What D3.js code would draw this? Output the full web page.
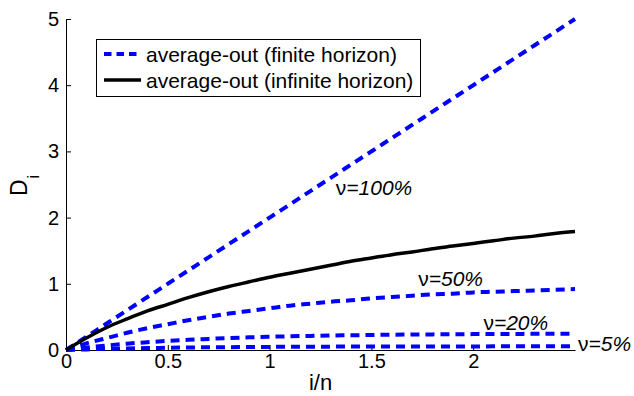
<!DOCTYPE html>
<html>
<head>
<meta charset="utf-8">
<script src="https://cdn.jsdelivr.net/npm/d3@7"></script>
<style>
  html, body { margin: 0; padding: 0; background: #fff; }
  svg { display: block; }
  text { font-family: "Liberation Sans", Arial, sans-serif; fill: #000; }
</style>
</head>
<body>
<svg id="chart" width="634" height="396"></svg>
<script>
// Normalised time i/n, sampled every 0.1
const xValues = [0, 0.1, 0.2, 0.3, 0.4, 0.5, 0.6, 0.7, 0.8, 0.9, 1.0, 1.1, 1.2,
                 1.3, 1.4, 1.5, 1.6, 1.7, 1.8, 1.9, 2.0, 2.1, 2.2, 2.3, 2.4, 2.5];

// Average-out, infinite horizon
const infiniteD = [0, 0.18, 0.34, 0.47, 0.59, 0.69, 0.79, 0.88, 0.96, 1.03, 1.10, 1.16, 1.22,
                   1.28, 1.34, 1.39, 1.44, 1.48, 1.53, 1.57, 1.61, 1.65, 1.69, 1.72, 1.76, 1.79];

// Average-out, finite horizon, one series per ν
const finite100 = [0, 0.2, 0.4, 0.6, 0.8, 1.0, 1.2, 1.4, 1.6, 1.8, 2.0, 2.2, 2.4,
                   2.6, 2.8, 3.0, 3.2, 3.4, 3.6, 3.8, 4.0, 4.2, 4.4, 4.6, 4.8, 5.0];
const finite50 = [0, 0.10, 0.18, 0.26, 0.33, 0.39, 0.45, 0.50, 0.55, 0.59, 0.63, 0.67, 0.70,
                  0.73, 0.75, 0.78, 0.80, 0.82, 0.84, 0.85, 0.87, 0.88, 0.89, 0.90, 0.91, 0.92];
const finite20 = [0, 0.037, 0.068, 0.095, 0.118, 0.138, 0.154, 0.168, 0.181, 0.191, 0.200, 0.207, 0.213,
                  0.219, 0.223, 0.227, 0.231, 0.234, 0.236, 0.238, 0.240, 0.241, 0.243, 0.244, 0.245, 0.245];
const finite5 = [0, 0.009, 0.018, 0.024, 0.029, 0.034, 0.038, 0.041, 0.043, 0.045, 0.047, 0.048, 0.050,
                 0.051, 0.052, 0.052, 0.053, 0.053, 0.054, 0.054, 0.054, 0.055, 0.055, 0.055, 0.055, 0.055];

const finiteLabels = ["ν=100%", "ν=50%", "ν=20%", "ν=5%"];
const legendLabels = ["average-out (finite horizon)", "average-out (infinite horizon)"];

const xTicks = [0, 0.5, 1, 1.5, 2];
const yTicks = [0, 1, 2, 3, 4, 5];

const svg = d3.select("#chart");
const plotLeft = 66, plotRight = 575, plotTop = 19, plotBottom = 350;

const x = d3.scaleLinear().domain([0, 2.5]).range([plotLeft, plotRight]);
const y = d3.scaleLinear().domain([0, 5]).range([plotBottom, plotTop]);

// Axes with inward ticks
const xAxis = d3.axisBottom(x).tickValues(xTicks).tickSizeInner(-5).tickSizeOuter(0)
  .tickPadding(4).tickFormat(d3.format("~g"));
const yAxis = d3.axisLeft(y).tickValues(yTicks).tickSizeInner(-5).tickSizeOuter(0)
  .tickPadding(7).tickFormat(d3.format("~g"));

const gx = svg.append("g").attr("transform", `translate(0,${plotBottom})`).call(xAxis);
const gy = svg.append("g").attr("transform", `translate(${plotLeft},0)`).call(yAxis);
[gx, gy].forEach(g => {
  g.select(".domain").attr("stroke", "#000").attr("stroke-width", 1);
  g.selectAll(".tick line").attr("stroke", "#000").attr("stroke-width", 1);
  g.selectAll(".tick text").attr("font-size", 20).attr("font-family", "Liberation Sans, Arial, sans-serif").attr("fill", "#000");
});
gx.selectAll(".tick text").attr("dy", "0.71em");

// Series
const line = d3.line().x((d, i) => x(xValues[i])).y(d => y(d)).curve(d3.curveMonotoneX);

const finiteSeries = [finite100, finite50, finite20, finite5];
svg.append("g").selectAll("path.finite").data(finiteSeries).join("path")
  .attr("class", "finite")
  .attr("d", line)
  .attr("fill", "none")
  .attr("stroke", "#0000ff")
  .attr("stroke-width", 4)
  .attr("stroke-dasharray", "9,6");

svg.append("path").datum(infiniteD)
  .attr("d", line)
  .attr("fill", "none")
  .attr("stroke", "#000")
  .attr("stroke-width", 3.5);

// ν annotations
const labelPos = [
  { xi: 1.325, yv: 2.34 },
  { xi: 1.73, yv: 0.96 },
  { xi: 2.05, yv: 0.30 },
  { xi: 2.515, yv: -0.02 }
];
finiteLabels.forEach((lbl, k) => {
  const t = svg.append("text")
    .attr("x", x(labelPos[k].xi))
    .attr("y", y(labelPos[k].yv))
    .attr("font-size", 21);
  t.append("tspan").text(lbl.slice(0, 1));
  t.append("tspan").attr("font-style", "italic").text(lbl.slice(1));
});

// Axis titles
svg.append("text")
  .attr("x", x(1.25)).attr("y", 390)
  .attr("text-anchor", "middle")
  .attr("font-size", 22)
  .text("i/n");

const yl = svg.append("text")
  .attr("transform", "translate(27,196) rotate(-90)")
  .attr("font-size", 23);
yl.append("tspan").text("D");
yl.append("tspan").attr("dy", 12).attr("dx", 1).attr("font-size", 16).text("i");

// Legend
const lg = svg.append("g");
lg.append("rect")
  .attr("x", 96.5).attr("y", 39.5).attr("width", 324).attr("height", 57)
  .attr("fill", "#fff").attr("stroke", "#000").attr("stroke-width", 1);
const legendRows = [
  { stroke: "#0000ff", w: 4, dash: "7.5,5", y: 54 },
  { stroke: "#000", w: 3.5, dash: null, y: 80 }
];
legendRows.forEach((r, k) => {
  lg.append("line")
    .attr("x1", 104).attr("x2", 141).attr("y1", r.y).attr("y2", r.y)
    .attr("stroke", r.stroke).attr("stroke-width", r.w)
    .attr("stroke-dasharray", r.dash);
  lg.append("text")
    .attr("x", 146).attr("y", r.y + 8)
    .attr("font-size", 21)
    .text(legendLabels[k]);
});
</script>
</body>
</html>
